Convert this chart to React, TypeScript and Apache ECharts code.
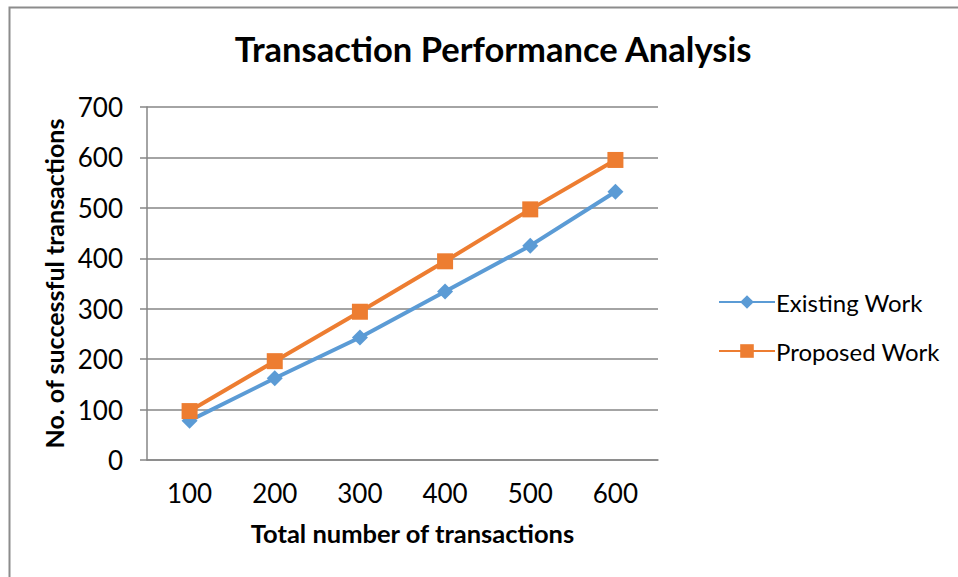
import React, { useEffect, useRef } from "react";
import * as echarts from "echarts";

const categories = ["100", "200", "300", "400", "500", "600"];
const existingWork = [78, 162, 243, 334, 425, 532];
const proposedWork = [97, 196, 294, 394, 497, 595];
const yTicks = [0, 100, 200, 300, 400, 500, 600, 700];

const FONT = "Lato, sans-serif";

export default function App() {
  const ref = useRef<HTMLDivElement>(null);
  useEffect(() => {
    if (!ref.current) return;
    const chart = echarts.init(ref.current, undefined, { renderer: "svg" });
    chart.setOption({
      animation: false,
      backgroundColor: "#ffffff",
      textStyle: { fontFamily: FONT },
      title: {
        text: "Transaction Performance Analysis",
        left: 488,
        textAlign: "center",
        top: 26,
        textStyle: { fontFamily: FONT, fontSize: 34.5, fontWeight: "bold", color: "#000" },
      },
      graphic: [
        {
          type: "rect",
          shape: { x: 9.5, y: 7.5, width: 1000, height: 1000 },
          style: { fill: "none", stroke: "#8c8c8c", lineWidth: 2 },
          silent: true,
        },
      ],
      legend: {
        orient: "vertical",
        left: 713,
        top: 285,
        itemWidth: 56,
        itemHeight: 17,
        itemGap: 25,
        textStyle: { fontFamily: FONT, fontSize: 24, color: "#000", padding: [0, 0, 0, -4] },
        data: ["Existing Work", "Proposed Work"],
      },
      grid: { left: 147, right: 300, top: 107, bottom: 117, containLabel: false },
      xAxis: {
        type: "category",
        data: categories,
        boundaryGap: true,
        axisLine: { lineStyle: { color: "#868686", width: 1.5 } },
        axisTick: { show: false },
        axisLabel: { fontFamily: FONT, fontSize: 26, color: "#000", margin: 20 },
        name: "Total number of transactions",
        nameLocation: "middle",
        nameGap: 60,
        nameTextStyle: {
          fontFamily: FONT,
          fontSize: 25.5,
          fontWeight: "bold",
          color: "#000",
          padding: [0, 0, 0, 20],
        },
      },
      yAxis: {
        type: "value",
        min: yTicks[0],
        max: yTicks[yTicks.length - 1],
        interval: 100,
        axisLine: { show: true, lineStyle: { color: "#868686", width: 1.5 } },
        axisTick: { show: true, length: 7, lineStyle: { color: "#868686", width: 1.5 } },
        splitLine: { show: true, lineStyle: { color: "#868686", width: 1.5 } },
        axisLabel: { fontFamily: FONT, fontSize: 26, color: "#000", margin: 24 },
        name: "No. of successful transactions",
        nameLocation: "middle",
        nameGap: 67,
        nameTextStyle: { fontFamily: FONT, fontSize: 25, fontWeight: "bold", color: "#000" },
      },
      series: [
        {
          name: "Existing Work",
          type: "line",
          data: existingWork,
          symbol: "diamond",
          symbolSize: 16,
          lineStyle: { color: "#5B9BD5", width: 4 },
          itemStyle: { color: "#5B9BD5" },
        },
        {
          name: "Proposed Work",
          type: "line",
          data: proposedWork,
          symbol: "rect",
          symbolSize: 16,
          lineStyle: { color: "#ED7D31", width: 4 },
          itemStyle: { color: "#ED7D31" },
        },
      ],
    });
    return () => chart.dispose();
  }, []);
  return (
    <div
      ref={ref}
      style={{ position: "fixed", left: 0, top: 0, width: 958, height: 577 }}
    />
  );
}
